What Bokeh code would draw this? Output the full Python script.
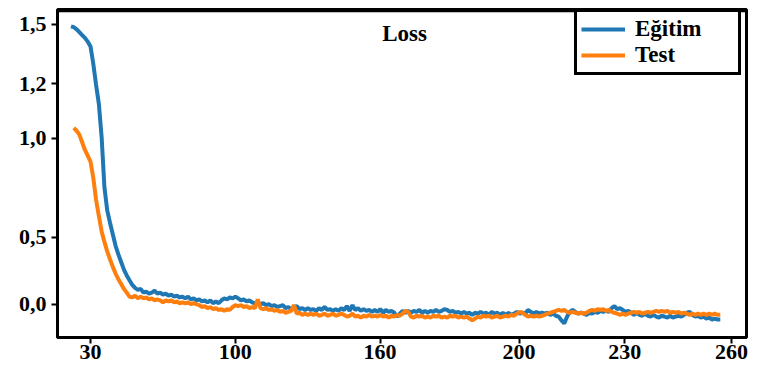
from bokeh.plotting import figure
from bokeh.models import Range1d, FixedTicker, Legend, LegendItem, Label, Span
from bokeh.embed import file_html
from bokeh.resources import INLINE

# ---- data ----
egitim = [
    1.490, 1.485, 1.474, 1.459, 1.443, 1.428, 1.408, 1.382, 1.289, 1.176,
    1.074, 0.894, 0.627, 0.503, 0.437, 0.375, 0.313, 0.267, 0.226, 0.185,
    0.154, 0.128, 0.103, 0.087, 0.077, 0.082, 0.062, 0.067, 0.057, 0.062,
    0.072, 0.057, 0.062, 0.051, 0.057, 0.046, 0.051, 0.041, 0.046, 0.036,
    0.041, 0.031, 0.041, 0.026, 0.031, 0.021, 0.026, 0.015, 0.021, 0.010,
    0.021, 0.005, 0.015, 0.005, 0.021, 0.031, 0.026, 0.036, 0.031, 0.041,
    0.031, 0.021, 0.026, 0.015, 0.021, 0.010, 0.005, 0.010, 0.000, 0.005,
    -0.005, 0.000, -0.010, -0.005, -0.015, -0.010, -0.005, -0.021, -0.015, -0.026,
    -0.015, -0.010, -0.026, -0.021, -0.031, -0.021, -0.031, -0.026, -0.036, -0.021,
    -0.031, -0.015, -0.031, -0.026, -0.036, -0.026, -0.036, -0.021, -0.031, -0.010,
    -0.036, -0.005, -0.031, -0.021, -0.036, -0.026, -0.036, -0.031, -0.041, -0.031,
    -0.041, -0.026, -0.046, -0.031, -0.041, -0.036, -0.046, -0.067, -0.051, -0.036,
    -0.046, -0.036, -0.046, -0.036, -0.041, -0.031, -0.046, -0.036, -0.046, -0.036,
    -0.041, -0.031, -0.041, -0.036, -0.026, -0.031, -0.041, -0.036, -0.046, -0.041,
    -0.051, -0.041, -0.051, -0.046, -0.057, -0.046, -0.051, -0.041, -0.051, -0.046,
    -0.057, -0.041, -0.051, -0.046, -0.057, -0.046, -0.057, -0.046, -0.057, -0.051,
    -0.041, -0.051, -0.046, -0.051, -0.031, -0.041, -0.051, -0.041, -0.051, -0.046,
    -0.051, -0.046, -0.057, -0.051, -0.062, -0.067, -0.087, -0.103, -0.067, -0.041,
    -0.031, -0.041, -0.051, -0.046, -0.051, -0.057, -0.046, -0.051, -0.041, -0.046,
    -0.036, -0.041, -0.036, -0.041, -0.021, -0.010, -0.026, -0.021, -0.031, -0.041,
    -0.036, -0.046, -0.057, -0.046, -0.057, -0.062, -0.051, -0.062, -0.067, -0.057,
    -0.067, -0.072, -0.062, -0.067, -0.072, -0.062, -0.072, -0.067, -0.062, -0.067,
    -0.057, -0.046, -0.041, -0.057, -0.067, -0.062, -0.072, -0.067, -0.077, -0.072,
    -0.082, -0.077, -0.082, -0.082,
]
test = [
    0.945, 0.930, 0.909, 0.868, 0.827, 0.796, 0.765, 0.678, 0.560, 0.473,
    0.390, 0.334, 0.283, 0.241, 0.200, 0.164, 0.134, 0.108, 0.082, 0.062,
    0.041, 0.036, 0.046, 0.031, 0.041, 0.031, 0.036, 0.026, 0.031, 0.021,
    0.026, 0.021, 0.010, 0.021, 0.015, 0.021, 0.010, 0.015, 0.005, 0.010,
    0.005, 0.010, 0.000, 0.005, 0.000, -0.005, -0.015, -0.010, -0.021, -0.015,
    -0.026, -0.021, -0.031, -0.026, -0.036, -0.026, -0.031, -0.015, -0.005, -0.010,
    -0.005, -0.015, -0.010, -0.021, -0.015, -0.021, 0.026, -0.021, -0.026, -0.021,
    -0.031, -0.026, -0.036, -0.031, -0.041, -0.036, -0.046, -0.041, -0.036, -0.005,
    -0.051, -0.046, -0.057, -0.051, -0.057, -0.051, -0.057, -0.051, -0.062, -0.057,
    -0.051, -0.062, -0.057, -0.051, -0.062, -0.057, -0.051, -0.057, -0.067, -0.062,
    -0.051, -0.067, -0.062, -0.072, -0.062, -0.067, -0.057, -0.067, -0.062, -0.067,
    -0.057, -0.067, -0.062, -0.072, -0.062, -0.067, -0.057, -0.062, -0.051, -0.036,
    -0.041, -0.067, -0.072, -0.062, -0.067, -0.062, -0.072, -0.067, -0.072, -0.062,
    -0.067, -0.062, -0.072, -0.067, -0.072, -0.062, -0.067, -0.062, -0.072, -0.067,
    -0.072, -0.067, -0.077, -0.087, -0.077, -0.067, -0.072, -0.062, -0.067, -0.062,
    -0.072, -0.067, -0.062, -0.072, -0.067, -0.062, -0.067, -0.057, -0.062, -0.051,
    -0.041, -0.046, -0.057, -0.067, -0.062, -0.067, -0.062, -0.067, -0.062, -0.057,
    -0.051, -0.046, -0.041, -0.036, -0.031, -0.036, -0.031, -0.041, -0.046, -0.041,
    -0.046, -0.051, -0.046, -0.051, -0.046, -0.036, -0.031, -0.036, -0.026, -0.031,
    -0.026, -0.036, -0.031, -0.041, -0.046, -0.051, -0.057, -0.051, -0.057, -0.051,
    -0.046, -0.041, -0.046, -0.041, -0.051, -0.046, -0.041, -0.046, -0.041, -0.036,
    -0.041, -0.036, -0.041, -0.036, -0.046, -0.041, -0.046, -0.041, -0.051, -0.046,
    -0.051, -0.057, -0.051, -0.057, -0.051, -0.057, -0.051, -0.057, -0.051, -0.057,
    -0.051, -0.057, -0.057,
]
egitim_epochs = list(range(23, 23 + len(egitim)))
test_epochs = list(range(24, 24 + len(test)))

x_tick_pos = [30, 81.97, 133.93, 183.8, 221.7, 260]
x_tick_labels = ["30", "100", "160", "200", "230", "260"]
y_tick_pos = [0.0, 0.3596, 0.8887, 1.1815, 1.5]
y_tick_labels = ["0,0", "0,5", "1,0", "1,2", "1,5"]

series_names = ["Eğitim", "Test"]
colors = ["#1f77b4", "#ff7f0e"]
title_text = "Loss"

FONT = "Liberation Serif"
Y_TOP = 1.580

p = figure(width=748, height=369, output_backend="svg", toolbar_location=None,
           x_range=Range1d(18.16, 265.4), y_range=Range1d(-0.1786, Y_TOP),
           min_border_left=57, min_border_right=2, min_border_top=9,
           min_border_bottom=32)
p.background_fill_color = "white"
p.border_fill_color = "white"
p.grid.visible = False
p.outline_line_color = "black"
p.outline_line_width = 3
p.outline_line_alpha = 1

for ax in (p.xaxis[0], p.yaxis[0]):
    ax.axis_line_color = "black"
    ax.axis_line_width = 3
    ax.major_tick_in = 0
    ax.major_tick_out = 6
    ax.major_tick_line_width = 2
    ax.minor_tick_line_color = None
    ax.major_label_text_font = FONT
    ax.major_label_text_font_style = "bold"
    ax.major_label_text_font_size = "22px"
    ax.major_label_text_color = "black"

p.xaxis.ticker = FixedTicker(ticks=x_tick_pos)
p.xaxis.major_label_overrides = dict(zip(x_tick_pos, x_tick_labels))
p.xaxis.major_label_standoff = 1
p.yaxis.ticker = FixedTicker(ticks=y_tick_pos)
p.yaxis.major_label_overrides = dict(zip(y_tick_pos, y_tick_labels))
p.yaxis.major_label_standoff = 5

# top spine (frame edge)
p.add_layout(Span(location=Y_TOP - 0.007, dimension="width",
                  line_color="black", line_width=3))

r1 = p.line(egitim_epochs, egitim, line_color=colors[0], line_width=4)
r2 = p.line(test_epochs, test, line_color=colors[1], line_width=4)

legend = Legend(items=[LegendItem(label=series_names[0], renderers=[r1]),
                       LegendItem(label=series_names[1], renderers=[r2])],
                location=(517, 262))
legend.border_line_color = "black"
legend.border_line_width = 3
legend.border_line_alpha = 1
legend.background_fill_color = "white"
legend.background_fill_alpha = 1
legend.label_text_font = FONT
legend.label_text_font_style = "bold"
legend.label_text_font_size = "23px"
legend.label_text_color = "black"
legend.glyph_width = 44
legend.glyph_height = 20
legend.label_height = 25
legend.label_width = 99
legend.label_standoff = 10
legend.padding = 4
legend.spacing = 0
legend.margin = 0
p.add_layout(legend, "center")

p.add_layout(Label(x=142.7, y=1.449, text=title_text, text_align="center",
                   text_baseline="middle", text_font=FONT,
                   text_font_style="bold", text_font_size="23px",
                   text_color="black"))

open("out.html", "w").write(file_html(p, INLINE))
